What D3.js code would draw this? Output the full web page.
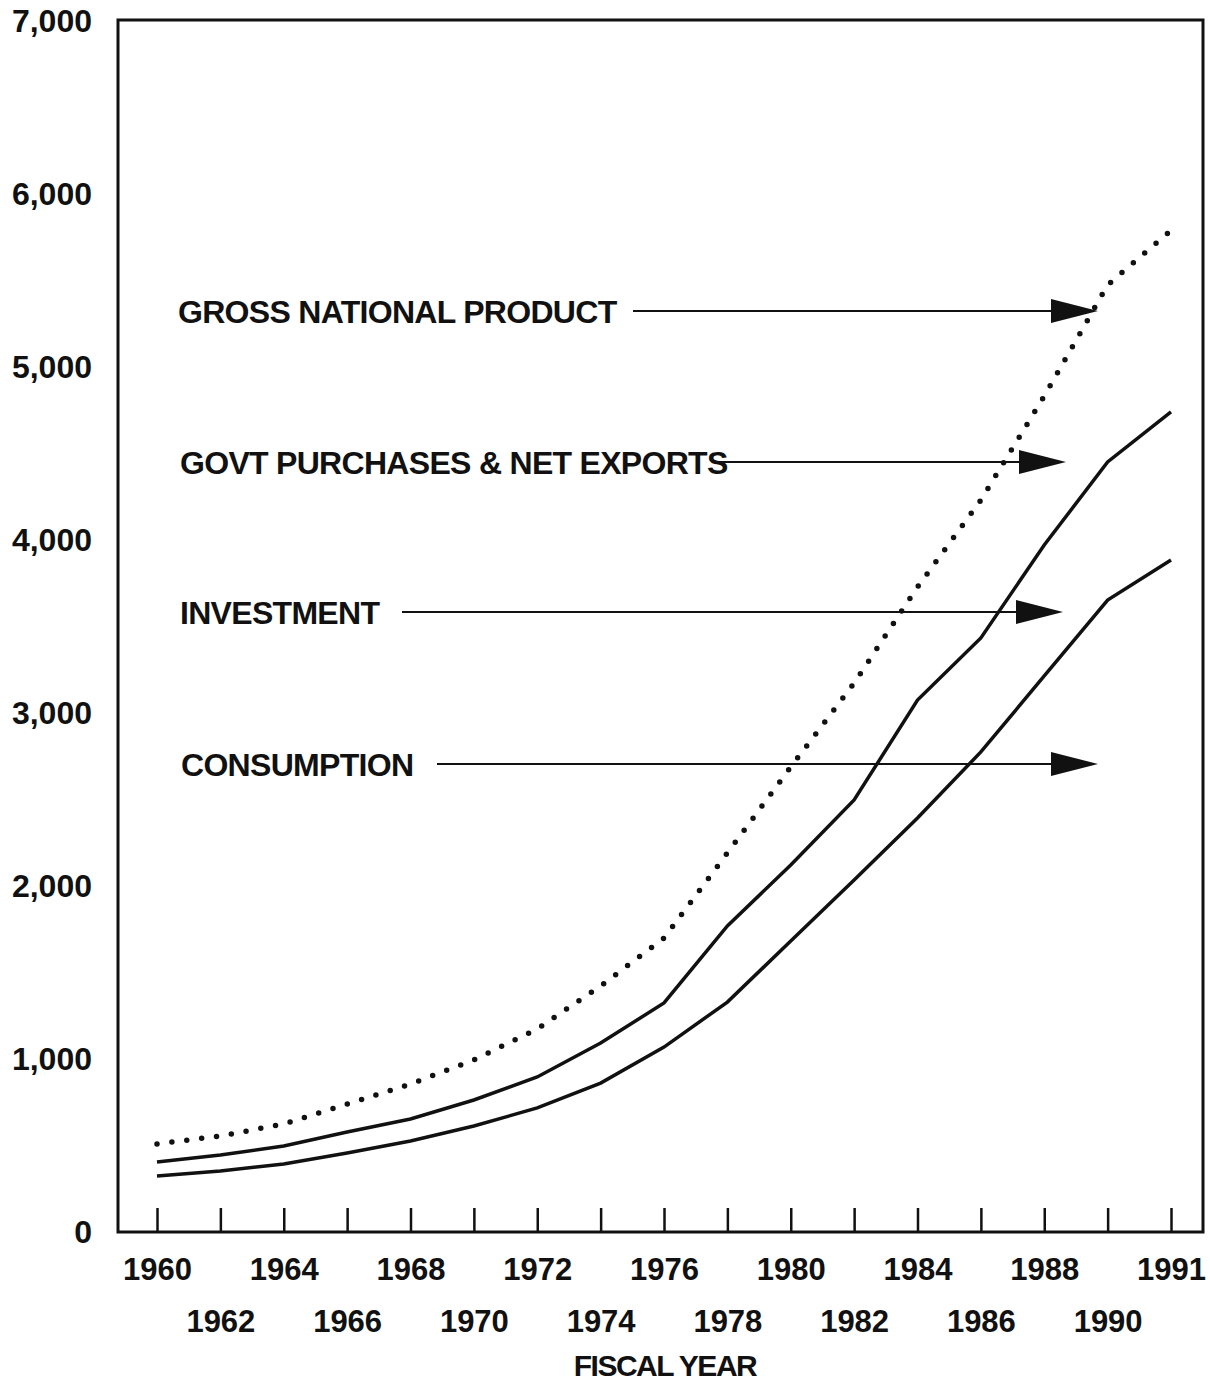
<!DOCTYPE html>
<html>
<head>
<meta charset="utf-8">
<script src="https://cdn.jsdelivr.net/npm/d3@7"></script>
<style>
  body { margin: 0; background: #fff; }
  svg text { font-family: "Liberation Sans", Arial, Helvetica, sans-serif; font-weight: bold; fill: #111; }
</style>
</head>
<body>
<div id="chart"></div>
<script>
// fiscal year tick labels (evenly spaced, last one is 1991)
const yearLabels = ['1960', '1962', '1964', '1966', '1968', '1970', '1972', '1974', '1976',
                    '1978', '1980', '1982', '1984', '1986', '1988', '1990', '1991'];
const yTicks = [0, 1000, 2000, 3000, 4000, 5000, 6000, 7000];

// values (billions)
const gnp         = [509, 555, 624, 740, 855, 995, 1174, 1422, 1699, 2191, 2688, 3173, 3728, 4231, 4832, 5474, 5790];
const consPlusInv = [405, 445, 497, 578, 653, 763, 896, 1092, 1324, 1769, 2121, 2497, 3075, 3434, 3971, 4451, 4740];
const consumption = [324, 353, 393, 457, 526, 613, 717, 861, 1069, 1329, 1682, 2035, 2393, 2775, 3214, 3653, 3884];

const noteLabels = ['GROSS NATIONAL PRODUCT', 'GOVT PURCHASES & NET EXPORTS', 'INVESTMENT', 'CONSUMPTION'];

const width = 1210, height = 1384;
const plotLeft = 118, plotRight = 1203, plotTop = 20, plotBottom = 1232;

const svg = d3.select('#chart').append('svg')
    .attr('width', width)
    .attr('height', height);

const x = d3.scalePoint().domain(yearLabels).range([157, 1171]);
const y = d3.scaleLinear().domain([0, 7000]).range([plotBottom, 21]);

// frame
svg.append('rect')
    .attr('x', plotLeft).attr('y', plotTop)
    .attr('width', plotRight - plotLeft).attr('height', plotBottom - plotTop)
    .attr('fill', 'none').attr('stroke', '#111').attr('stroke-width', 3);

// y axis labels
const yAxis = svg.append('g')
    .attr('transform', 'translate(' + plotLeft + ',0)')
    .call(d3.axisLeft(y).tickValues(yTicks).tickFormat(d3.format(',')).tickSize(0).tickPadding(26));
yAxis.select('.domain').remove();
yAxis.selectAll('text').style('font-size', '32px').attr('fill', '#111');

// x axis: ticks pointing up, labels in two rows
const xAxis = svg.append('g')
    .attr('transform', 'translate(0,' + plotBottom + ')')
    .call(d3.axisBottom(x).tickSizeInner(-24).tickSizeOuter(0));
xAxis.select('.domain').remove();
xAxis.selectAll('line').attr('stroke', '#111').attr('stroke-width', 2.5);
xAxis.selectAll('text')
    .style('font-size', '31px')
    .attr('fill', '#111')
    .attr('dy', 0)
    .attr('y', (d, i) => i % 2 ? 100 : 48);

svg.append('text')
    .attr('x', 665).attr('y', 1376)
    .attr('text-anchor', 'middle')
    .style('font-size', '30px')
    .style('letter-spacing', '-1.5px')
    .text('FISCAL YEAR');

// series
const line = d3.line()
    .x((d, i) => x(yearLabels[i]))
    .y(d => y(d));

svg.append('path')
    .datum(consumption)
    .attr('d', line)
    .attr('fill', 'none').attr('stroke', '#111').attr('stroke-width', 3.5);

svg.append('path')
    .datum(consPlusInv)
    .attr('d', line)
    .attr('fill', 'none').attr('stroke', '#111').attr('stroke-width', 3.5);

svg.append('path')
    .datum(gnp)
    .attr('d', line)
    .attr('fill', 'none').attr('stroke', '#111').attr('stroke-width', 5.5)
    .attr('stroke-linecap', 'round')
    .attr('stroke-dasharray', '0 15');

// labels with arrows
const noteLayout = [
    { ty: 311, tx: 178, from: 633, to: 1098 },
    { ty: 462, tx: 180, from: 716, to: 1066 },
    { ty: 612, tx: 180, from: 402, to: 1063 },
    { ty: 764, tx: 181, from: 437, to: 1098 }
];

const notes = svg.append('g').selectAll('g')
    .data(noteLabels)
    .enter().append('g');

notes.append('line')
    .attr('x1', (d, i) => noteLayout[i].from)
    .attr('x2', (d, i) => noteLayout[i].to - 40)
    .attr('y1', (d, i) => noteLayout[i].ty)
    .attr('y2', (d, i) => noteLayout[i].ty)
    .attr('stroke', '#111').attr('stroke-width', 2);

notes.append('path')
    .attr('d', (d, i) => {
        var n = noteLayout[i];
        return 'M' + n.to + ',' + n.ty + 'L' + (n.to - 47) + ',' + (n.ty - 12) + 'L' + (n.to - 47) + ',' + (n.ty + 12) + 'Z';
    })
    .attr('fill', '#111');

notes.append('text')
    .attr('x', (d, i) => noteLayout[i].tx)
    .attr('y', (d, i) => noteLayout[i].ty + 12)
    .style('font-size', '32px')
    .style('letter-spacing', '-0.7px')
    .text(d => d);
</script>
</body>
</html>
